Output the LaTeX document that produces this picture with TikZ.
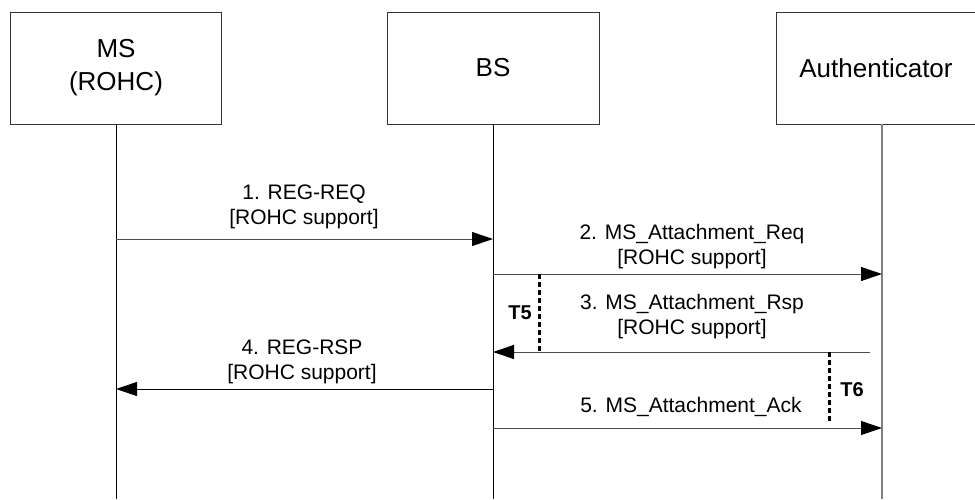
\documentclass[tikz,border=0pt]{standalone}
\usepackage{fontspec}
\setmainfont{Liberation Sans}
\usetikzlibrary{arrows.meta}

\begin{document}
\begin{tikzpicture}[x=1pt,y=-1pt,
  >={Triangle[length=21pt,width=14pt,color=black]},
  entity/.style={draw=black!80,line width=0.8pt,minimum height=112pt,inner sep=0pt,
    align=center,font=\fontsize{26}{33}\selectfont},
  msg/.style={draw=black!70,line width=1pt},
  lbl/.style={inner sep=0pt,align=center,font=\fontsize{21}{25}\selectfont},
  timer/.style={line width=3pt,dash pattern=on 5pt off 3pt},
  tlbl/.style={inner sep=0pt,font=\fontsize{20}{22}\selectfont\bfseries}]
\useasboundingbox (0,0) rectangle (975,499);
% entities
\node[entity,minimum width=211pt] (ms) at (116,68) {MS\\(ROHC)};
\node[entity,minimum width=212pt] (bs) at (493,68) {BS};
\node[entity,minimum width=200pt] (auth) at (876,68) {Authenticator};
% lifelines
\coordinate (msend) at (116,499);
\coordinate (bsend) at (493,499);
\coordinate (authend) at (882,499);
\draw[line width=1pt] (ms.south) -- (msend);
\draw[line width=1pt] (bs.south) -- (bsend);
\draw[line width=1.8pt,black!50] (auth.south -| authend) -- (authend);
% messages
\coordinate (ms1) at (116,239);
\coordinate (bs1) at (493,239);
\draw[msg,->] (ms1) -- (bs1);
\node[lbl] (m1) at (304,207) {1. REG-REQ\\{[ROHC support]}};
\coordinate (bs2) at (493,274);
\coordinate (au2) at (882,274);
\draw[msg,->] (bs2) -- (au2);
\node[lbl] (m2) at (692,246.5) {2. MS\_Attachment\_Req\\{[ROHC support]}};
\coordinate (au3) at (870,352);
\coordinate (bs3) at (493,352);
\draw[msg,->] (au3) -- (bs3);
\node[lbl] (m3) at (692,317) {3. MS\_Attachment\_Rsp\\{[ROHC support]}};
\coordinate (bs4) at (493,389);
\coordinate (ms4) at (116,389);
\draw[msg,black,->] (bs4) -- (ms4);
\node[lbl] (m4) at (302,361.5) {4. REG-RSP\\{[ROHC support]}};
\coordinate (bs5) at (493,428);
\coordinate (au5) at (882,428);
\draw[msg,->] (bs5) -- (au5);
\node[lbl] (m5) at (691,407) {5. MS\_Attachment\_Ack};
% timers
\coordinate (t5a) at (539,274);
\coordinate (t5b) at (539,352);
\draw[timer] (t5a) -- (t5b);
\node[tlbl] (t5) at (520,313) {T5};
\coordinate (t6a) at (829,352);
\coordinate (t6b) at (829,422);
\draw[timer] (t6a) -- (t6b);
\node[tlbl] (t6) at (852,390) {T6};
\end{tikzpicture}
\end{document}
